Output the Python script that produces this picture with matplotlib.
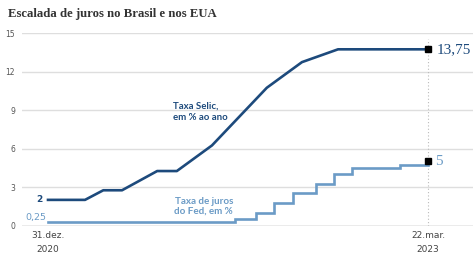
import numpy as np
import pandas as pd
import matplotlib
matplotlib.use('Agg')
import matplotlib.pyplot as plt

# Taxa Selic (vertices da linha)
selic_dates = ['2020-12-31', '2021-03-20', '2021-04-28', '2021-06-07', '2021-08-21',
               '2021-10-02', '2021-12-16', '2022-04-12', '2022-06-26', '2022-09-11',
               '2023-03-22']
selic_vals = [2, 2, 2.75, 2.75, 4.25, 4.25, 6.25, 10.75, 12.75, 13.75, 13.75]

# Taxa do Fed (degraus)
fed_dates = ['2020-12-31', '2022-02-03', '2022-03-20', '2022-04-28', '2022-06-07',
             '2022-07-26', '2022-09-02', '2022-10-11', '2023-01-21', '2023-03-22']
fed_vals = [0.25, 0.5, 1.0, 1.75, 2.5, 3.25, 4.0, 4.5, 4.75, 5.0]

y_ticks = [0, 3, 6, 9, 12, 15]
x_ticks = ['2020-12-31', '2023-03-22']
x_labels = ['31.dez.\n2020', '22.mar.\n2023']

SELIC_C = '#1d4a7c'
FED_C = '#6b9bc6'
SERIF = 'Liberation Serif'
SANS = 'Lato'

selic_x = pd.to_datetime(selic_dates)
fed_x = pd.to_datetime(fed_dates)
start = pd.Timestamp(x_ticks[0])
end = pd.Timestamp(x_ticks[1])

W, H = 473, 254
fig = plt.figure(figsize=(W / 100, H / 100), dpi=100)

# eixo: 0 em y=225.5px, 15 em y=33.3px; inicio x=48px, fim x=428px
px_day = (428 - 48) / (end - start).days
left_px, right_px = 22, 473
ax = fig.add_axes([left_px / W, (H - 225.5) / H, (right_px - left_px) / W, (225.5 - 33.3) / H])
ax.set_xlim(start - pd.Timedelta(days=(48 - left_px) / px_day),
            end + pd.Timedelta(days=(right_px - 428) / px_day))
ax.set_ylim(0, 15)

for v in y_ticks:
    ax.axhline(v, color='#9a9a9a' if v == 0 else '#dedede', lw=1.0, zorder=0)
ax.axvline(end, ymax=0.97, color='#bbbbbb', lw=0.8, ls=(0, (1, 2)), zorder=0)

ax.plot(fed_x, fed_vals, color=FED_C, lw=1.9, drawstyle='steps-post',
        solid_joinstyle='miter', clip_on=False, zorder=3)
ax.plot(selic_x, selic_vals, color=SELIC_C, lw=1.9, solid_joinstyle='round',
        clip_on=False, zorder=4)
ax.plot([end, end], [selic_vals[-1], fed_vals[-1]], 's', color='black', ms=4,
        clip_on=False, zorder=5)

for s in ax.spines.values():
    s.set_visible(False)
ax.set_yticks(y_ticks)
ax.set_yticklabels([str(v) for v in y_ticks], fontsize=5.5, color='#555555')
ax.tick_params(axis='y', length=0, pad=5)
ax.set_xticks(pd.to_datetime(x_ticks))
ax.set_xticklabels(x_labels, fontsize=6.5, color='#444444', linespacing=1.7)
ax.tick_params(axis='x', length=0, pad=4)

# valores finais
ax.annotate('13,75', (end, selic_vals[-1]), xytext=(6, 0), textcoords='offset points',
            va='center', ha='left', fontsize=11, family=SERIF, color=SELIC_C,
            annotation_clip=False)
ax.annotate('5', (end, fed_vals[-1]), xytext=(5, 0), textcoords='offset points',
            va='center', ha='left', fontsize=11, family=SERIF, color=FED_C,
            annotation_clip=False)

# valores iniciais
ax.annotate('2', (start, selic_vals[0]), xytext=(-4, 0), textcoords='offset points',
            va='center', ha='right', fontsize=6.5, fontweight='bold', color=SELIC_C,
            annotation_clip=False)
ax.annotate('0,25', (start, fed_vals[0]), xytext=(-1, 1.5), textcoords='offset points',
            va='baseline', ha='right', fontsize=6.8, color=FED_C, annotation_clip=False)

# rotulos das series
ax.text(pd.Timestamp('2021-09-23'), 9.65, 'Taxa Selic,\nem % ao ano', fontsize=6.9,
        family=SANS, fontweight='bold', color=SELIC_C, ha='left', va='top',
        linespacing=1.25)
ax.text(pd.Timestamp('2022-01-30'), 2.25, 'Taxa de juros\ndo Fed, em %', fontsize=7.1,
        family=SANS, fontweight='bold', color=FED_C, ha='right', va='top',
        linespacing=1.2, multialignment='right')

fig.text(8 / W, 1 - 14 / H, 'Escalada de juros no Brasil e nos EUA', fontsize=9.2,
         fontweight='bold', family=SERIF, color='#333333', va='center', ha='left')

fig.savefig('out.png', dpi=100)
